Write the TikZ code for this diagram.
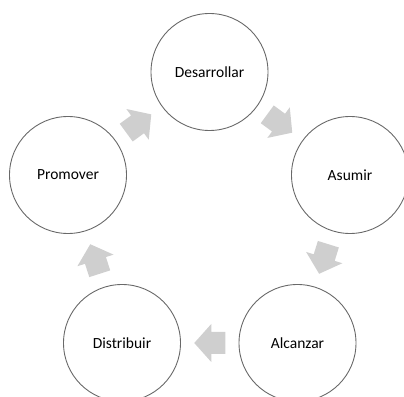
\documentclass[tikz,border=0pt]{standalone}
\usepackage{fontspec}
\setmainfont{Carlito}
\usetikzlibrary{calc}
\definecolor{ringgray}{RGB}{105,105,105}
\definecolor{arrowgray}{RGB}{207,207,207}
\tikzset{
  stage/.style={circle, draw=ringgray, line width=0.9pt, minimum size=117pt,
    inner sep=0pt, font=\fontsize{15.5}{18}\selectfont},
  flow/.pic={
    \fill[arrowgray] (-15.5,-11) -- (-1.5,-11) -- (-1.5,-19) -- (15.5,0)
      -- (-1.5,19) -- (-1.5,11) -- (-15.5,11) -- cycle;
  }
}

\begin{document}
\begin{tikzpicture}[x=1pt, y=1pt]
    \clip (0,0) rectangle (404,396);
    \node[stage] (des) at (209.5,324) {Desarrollar};
    \node[stage] (asu) at (350,221)   {Asumir};
    \node[stage] (alc) at (297.5,53)  {Alcanzar};
    \node[stage] (dis) at (122,53)    {Distribuir};
    \node[stage] (pro) at (68,221)    {Promover};
    % block arrows half way between the circles
    \foreach \a/\b in {pro/des,des/asu,asu/alc,alc/dis,dis/pro}
      \path let \p1=($(\b)-(\a)$), \n1={atan2(\y1,\x1)} in
        ($(\a)!0.5!(\b)$) pic[rotate=\n1] {flow};
\end{tikzpicture}
\end{document}
